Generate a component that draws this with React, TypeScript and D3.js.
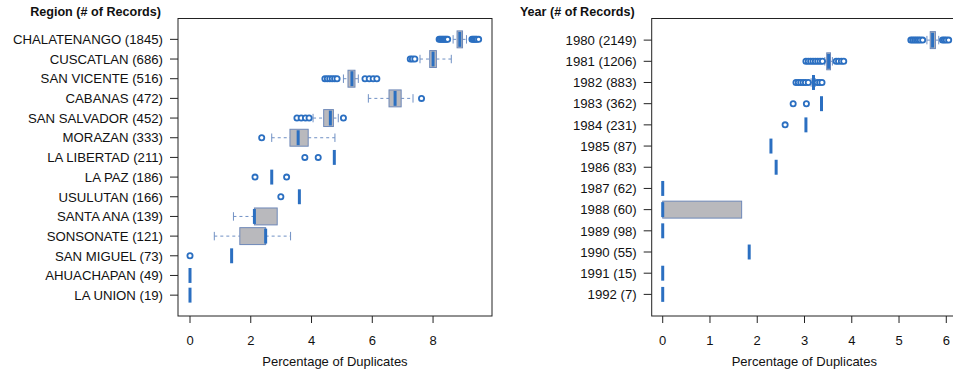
import React from 'react'
import * as d3 from 'd3'

// ---- data ----
const regionLabels = [
  'CHALATENANGO (1845)', 'CUSCATLAN (686)', 'SAN VICENTE (516)', 'CABANAS (472)',
  'SAN SALVADOR (452)', 'MORAZAN (333)', 'LA LIBERTAD (211)', 'LA PAZ (186)',
  'USULUTAN (166)', 'SANTA ANA (139)', 'SONSONATE (121)', 'SAN MIGUEL (73)',
  'AHUACHAPAN (49)', 'LA UNION (19)'
]
const regionLow = [8.66, 7.57, 5.05, 5.87, 4.05, 2.69, 4.75, 2.69, 3.6, 1.43, 0.8, 1.37, 0, 0]
const regionQ1 = [8.79, 7.89, 5.2, 6.55, 4.4, 3.29, 4.75, 2.69, 3.6, 2.12, 1.64, 1.37, 0, 0]
const regionMed = [8.88, 8.0, 5.33, 6.75, 4.62, 3.56, 4.75, 2.69, 3.6, 2.12, 2.49, 1.37, 0, 0]
const regionQ3 = [8.97, 8.11, 5.43, 6.95, 4.72, 3.89, 4.75, 2.69, 3.6, 2.87, 2.49, 1.37, 0, 0]
const regionHigh = [9.1, 8.6, 5.54, 7.34, 4.88, 4.77, 4.75, 2.69, 3.6, 2.87, 3.31, 1.37, 0, 0]
const regionOutliers = [
  [8.2, 8.24, 8.28, 8.32, 8.36, 8.4, 8.44, 8.48, 9.28, 9.32, 9.36, 9.4, 9.44, 9.5],
  [7.25, 7.32, 7.4],
  [4.44, 4.52, 4.6, 4.68, 4.76, 4.84, 5.76, 5.9, 6.03, 6.15],
  [7.62],
  [3.52, 3.66, 3.8, 3.92, 5.05],
  [2.36],
  [3.78, 4.22],
  [2.14, 3.18],
  [2.99],
  [],
  [],
  [0],
  [],
  []
]
const regionTicks = [0, 2, 4, 6, 8]

const yearLabels = [
  '1980 (2149)', '1981 (1206)', '1982 (883)', '1983 (362)', '1984 (231)', '1985 (87)',
  '1986 (83)', '1987 (62)', '1988 (60)', '1989 (98)', '1990 (55)', '1991 (15)', '1992 (7)'
]
const yearLow = [5.59, 3.43, 3.14, 3.36, 3.03, 2.29, 2.4, 0, 0, 0, 1.83, 0, 0]
const yearQ1 = [5.66, 3.47, 3.19, 3.36, 3.03, 2.29, 2.4, 0, 0, 0, 1.83, 0, 0]
const yearMed = [5.71, 3.51, 3.19, 3.36, 3.03, 2.29, 2.4, 0, 0, 0, 1.83, 0, 0]
const yearQ3 = [5.77, 3.55, 3.19, 3.36, 3.03, 2.29, 2.4, 0, 1.67, 0, 1.83, 0, 0]
const yearHigh = [5.84, 3.59, 3.23, 3.36, 3.03, 2.29, 2.4, 0, 1.67, 0, 1.83, 0, 0]
const yearOutliers = [
  [5.25, 5.29, 5.33, 5.37, 5.41, 5.45, 5.5, 5.92, 5.96, 6.0, 6.05],
  [3.03, 3.08, 3.13, 3.18, 3.23, 3.28, 3.33, 3.38, 3.67, 3.72, 3.78, 3.83],
  [2.82, 2.87, 2.92, 2.97, 3.02, 3.08, 3.27, 3.32, 3.37],
  [2.76, 3.04],
  [2.59],
  [], [], [], [], [], [], [], []
]
const yearTicks = [0, 1, 2, 3, 4, 5, 6]

const FONT = '"Liberation Sans", Arial, Helvetica, sans-serif'
const BLUE = '#2b6fc1'
const WHISK = '#7090c4'
const BOX_FILL = '#b9b9bd'
const BOX_STROKE = '#6e88b8'

type PanelProps = {
  title: string
  labels: string[]
  low: number[]
  q1: number[]
  med: number[]
  q3: number[]
  high: number[]
  outliers: number[][]
  ticks: number[]
  left: number
  right: number
  xDomain: [number, number]
  boxwex: number
}

function Panel(p: PanelProps) {
  const top = 18.5
  const bottom = 316
  const n = p.labels.length
  const ext = n * 0.04
  const x = d3.scaleLinear().domain(p.xDomain).range([p.left, p.right])
  const y = d3.scaleLinear().domain([0.5 - ext, n + 0.5 + ext]).range([top, bottom])
  const unit = y(1) - y(0)
  const hh = unit * p.boxwex / 2

  return (
    <g>
      <text x={p.left - 17} y={15.5} textAnchor="end" fontSize={12.6} fontWeight="bold" fontFamily={FONT} fill="#111">
        {p.title}
      </text>
      {p.labels.map((lab, i) => {
        const cy = y(i + 1)
        const lo = p.low[i], a = p.q1[i], m = p.med[i], b = p.q3[i], hi = p.high[i]
        return (
          <g key={lab}>
            <line x1={p.left - 8} x2={p.left} y1={cy} y2={cy} stroke="#222" />
            <text x={p.left - 15} y={cy} dy="0.36em" textAnchor="end" fontSize={13.2} fontFamily={FONT} fill="#111">
              {lab}
            </text>
            {hi > b && (
              <g stroke={WHISK} strokeWidth={1}>
                <line x1={x(b)} x2={x(hi)} y1={cy} y2={cy} strokeDasharray="3,3" />
                <line x1={x(hi)} x2={x(hi)} y1={cy - hh / 2} y2={cy + hh / 2} />
              </g>
            )}
            {lo < a && (
              <g stroke={WHISK} strokeWidth={1}>
                <line x1={x(lo)} x2={x(a)} y1={cy} y2={cy} strokeDasharray="3,3" />
                <line x1={x(lo)} x2={x(lo)} y1={cy - hh / 2} y2={cy + hh / 2} />
              </g>
            )}
            {b > a && (
              <rect x={x(a)} y={cy - hh} width={x(b) - x(a)} height={2 * hh}
                fill={BOX_FILL} stroke={BOX_STROKE} strokeWidth={1} />
            )}
            <line x1={x(m)} x2={x(m)} y1={cy - hh + 1} y2={cy + hh - 1} stroke={BLUE} strokeWidth={3} />
            {p.outliers[i].map((v, k) => (
              <circle key={k} cx={x(v)} cy={cy} r={2.6} fill="white" stroke={BLUE} strokeWidth={1.8} />
            ))}
          </g>
        )
      })}
      <rect x={p.left} y={top} width={p.right - p.left} height={bottom - top} fill="none" stroke="#222" strokeWidth={1} />
      {p.ticks.map(t => (
        <g key={t}>
          <line x1={x(t)} x2={x(t)} y1={bottom} y2={bottom + 7} stroke="#222" />
          <text x={x(t)} y={345} textAnchor="middle" fontSize={13} fontFamily={FONT} fill="#111">{t}</text>
        </g>
      ))}
      <text x={(p.left + Math.min(p.right, 957)) / 2} y={365.5} textAnchor="middle" fontSize={13} fontFamily={FONT} fill="#111">
        Percentage of Duplicates
      </text>
    </g>
  )
}

export default function App() {
  return (
    <svg width={953} height={371} style={{ position: 'absolute', left: 0, top: 0, background: 'white' }}>
      <Panel title="Region (# of Records)" labels={regionLabels} low={regionLow} q1={regionQ1}
        med={regionMed} q3={regionQ3} high={regionHigh} outliers={regionOutliers} ticks={regionTicks}
        left={178} right={492} xDomain={[-0.395, 9.94]} boxwex={0.86} />
      <Panel title="Year (# of Records)" labels={yearLabels} low={yearLow} q1={yearQ1}
        med={yearMed} q3={yearQ3} high={yearHigh} outliers={yearOutliers} ticks={yearTicks}
        left={651.7} right={960} xDomain={[-0.233, 6.29]} boxwex={0.8} />
    </svg>
  )
}
